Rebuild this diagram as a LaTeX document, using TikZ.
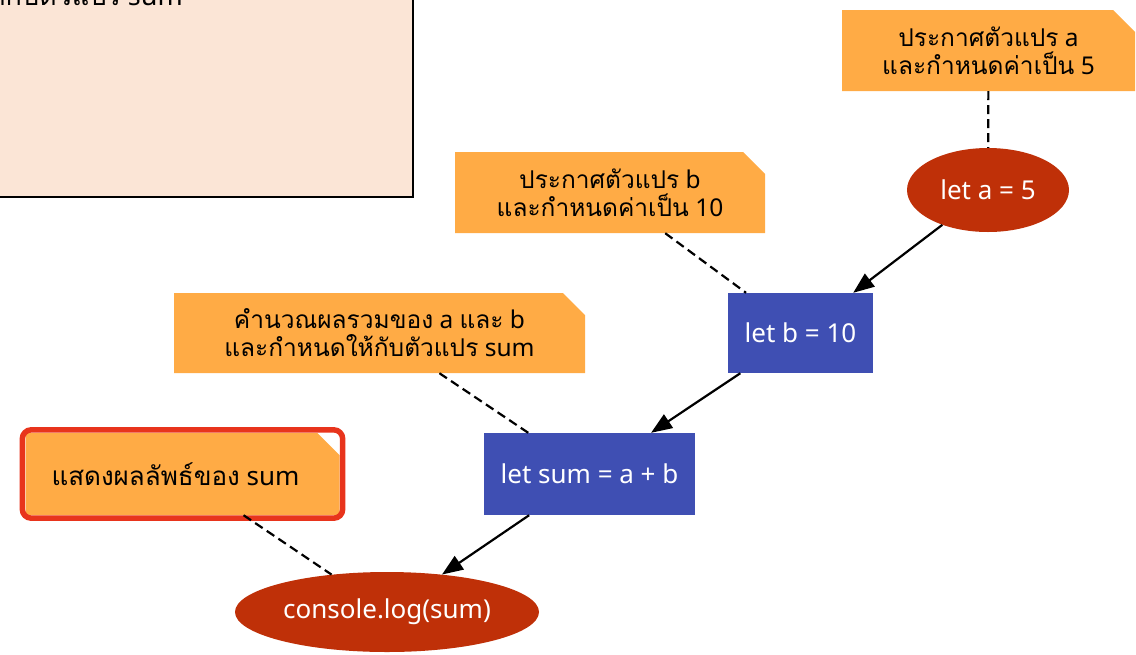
\documentclass[tikz,border=0pt]{standalone}
\usepackage{fontspec}
\setmainfont{Noto Sans}
\newfontfamily\thaifont[Script=Thai]{Loma}
\usepackage{tikz}
\usetikzlibrary{shapes.geometric, shapes.misc, arrows.meta, fit}

\definecolor{noteorange}{HTML}{FFAB45}
\definecolor{stmtblue}{HTML}{3F4FB3}
\definecolor{iored}{HTML}{BF3008}
\definecolor{hired}{HTML}{E8341C}
\definecolor{peach}{HTML}{FBE5D6}

\newcommand{\thaitxt}[1]{{\thaifont #1}}
\newcommand{\notefont}{\fontsize{24.5}{28}\selectfont}
\newcommand{\codefont}{\fontsize{26}{30}\selectfont}

\begin{document}
\begin{tikzpicture}[x=1pt, y=-1pt]
\tikzstyle{note} = [chamfered rectangle, chamfered rectangle corners=north east, chamfered rectangle xsep=11pt, chamfered rectangle ysep=11pt, fill=noteorange, align=center, font=\notefont, inner sep=0pt]
\tikzstyle{stmt} = [rectangle, fill=stmtblue, text=white, font=\codefont, inner sep=0pt]
\tikzstyle{io} = [ellipse, fill=iored, text=white, font=\codefont, inner sep=0pt]
\tikzstyle{flow} = [-{Triangle[length=21pt, width=16pt]}, line width=2.2pt]
\tikzstyle{link} = [dash pattern=on 9pt off 5pt, line width=2.2pt]
\useasboundingbox (0,0) rectangle (1136,654);
\clip (0,0) rectangle (1136,654);
% legend box, mostly off the page
\draw[fill=peach, line width=2pt] (-20,-40) rectangle (413,197);
\node[anchor=base east, inner sep=0pt, font=\fontsize{27}{30}\selectfont] (hdr) at (183,5) {\thaitxt{ให้กับตัวแปร} sum};
% statements
\node[io, minimum width=162pt, minimum height=84pt] (leta) at (988,190) {let a = 5};
\node[stmt, minimum width=145pt, minimum height=80pt] (letb) at (800.5,333) {let b = 10};
\node[stmt, minimum width=211pt, minimum height=82pt] (letsum) at (589.5,474) {let sum = a + b};
\node[io, minimum width=304pt, minimum height=80pt] (log) at (387,612) {console.log(sum)};
% comments
\node[note, minimum width=293pt, minimum height=81pt] (notea) at (988.5,50.5) {\thaitxt{ประกาศตัวแปร} a\\\thaitxt{และกำหนดค่าเป็น} 5};
\node[note, minimum width=310pt, minimum height=81pt] (noteb) at (610,192.5) {\thaitxt{ประกาศตัวแปร} b\\\thaitxt{และกำหนดค่าเป็น} 10};
\node[note, minimum width=411pt, minimum height=80pt] (notesum) at (379.5,333) {\thaitxt{คำนวณผลรวมของ} a \thaitxt{และ} b\\\thaitxt{และกำหนดให้กับตัวแปร} sum};
\node[note, minimum width=314pt, minimum height=82pt, font=\fontsize{26}{30}\selectfont] (notelog) at (182.5,474) {\thaitxt{แสดงผลลัพธ์ของ} sum\hspace*{14pt}};
\node[draw=hired, line width=5.5pt, rounded corners=9pt, inner sep=3pt, fit=(notelog)] (hilite) {};
% program order
\draw[flow] (leta) -- (letb);
\draw[flow] (letb) -- (letsum);
\draw[flow] (letsum) -- (log);
% comment links
\draw[link] (notea) -- (leta);
\draw[link] (noteb) -- (letb);
\draw[link] (notesum) -- (letsum);
\draw[link] (notelog) -- (log);
\end{tikzpicture}
\end{document}
